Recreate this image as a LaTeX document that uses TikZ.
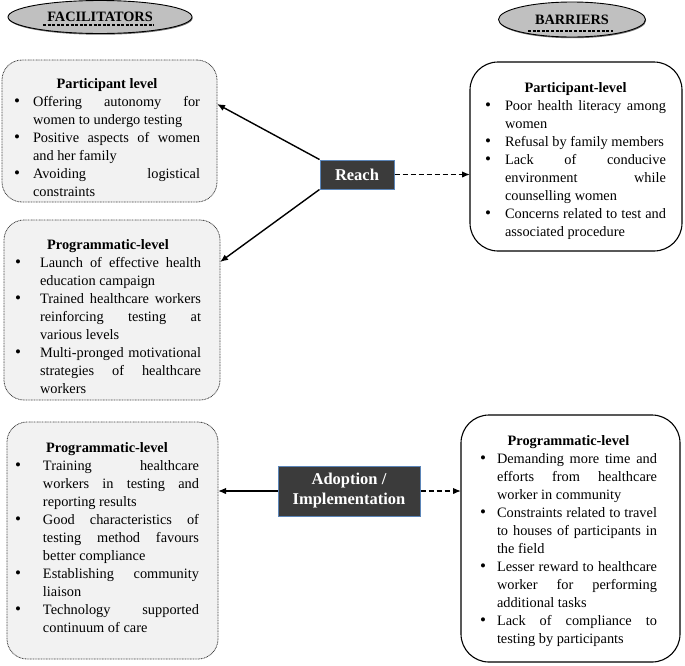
\documentclass[tikz,border=0pt]{standalone}
\usepackage{fontspec}
\setmainfont{Liberation Serif}
\usetikzlibrary{arrows.meta,shapes.geometric,shadows}
\definecolor{boxgray}{HTML}{F2F2F2}
\definecolor{ellgray}{HTML}{C0C0C0}
\definecolor{darkfill}{HTML}{3B3B3B}
\definecolor{blueedge}{HTML}{5B85B8}
\newcommand{\bigbullet}{{\fontsize{17}{17}\selectfont\textbullet}}
\newenvironment{bitems}[1]{%
  \begin{list}{\bigbullet}{%
    \setlength{\leftmargin}{#1}\setlength{\labelwidth}{#1}%
    \setlength{\labelsep}{0pt}\setlength{\itemsep}{0pt}%
    \setlength{\parsep}{0pt}\setlength{\topsep}{0pt}%
    \setlength{\partopsep}{0pt}\setlength{\itemindent}{0pt}%
    \setlength{\rightmargin}{0pt}%
    \renewcommand{\makelabel}[1]{##1\hfil}}%
    \leftskip=0pt \rightskip=0pt \parfillskip=0pt plus 1fil \relax}%
  {\end{list}}
\newcommand{\boxtitle}[1]{{\centering\bfseries #1\par}}
\newcommand{\txtsetup}{\tolerance=9999 \hbadness=10000 \hfuzz=3pt \hyphenpenalty=10000 \exhyphenpenalty=10000 \relax}
\begin{document}
\begin{tikzpicture}[x=1pt,y=-1pt,
  lbox/.style={draw=black!75, line width=0.8pt, dash pattern=on 0.9pt off 0.7pt,
    fill=boxgray, rounded corners=20pt, inner sep=0pt, outer sep=0pt},
  rbox/.style={draw=black, line width=1.1pt, fill=white, rounded corners=28pt,
    inner sep=0pt, outer sep=0pt},
  txt/.style={inner sep=0pt, outer sep=0pt, anchor=base west, align=justify,
    font=\fontsize{14.35}{18}\selectfont},
  hdr/.style={ellipse, draw=black, line width=0.9pt, fill=ellgray, inner sep=0pt,
    font=\fontsize{14.3}{17}\selectfont\bfseries,
    drop shadow={shadow xshift=0.6pt, shadow yshift=-1.2pt, fill=black!70, opacity=0.8}},
  uline/.style={line width=1.5pt, dash pattern=on 3pt off 1.6pt},
  stage/.style={draw=blueedge, line width=1pt, fill=darkfill, text=white,
    inner sep=0pt, font=\fontsize{16.5}{20}\selectfont\bfseries, align=center},
  arr/.style={line width=1.4pt, -{Latex[length=8pt,width=6.5pt]}},
  darr/.style={arr, dash pattern=on 5pt off 3pt}
]
\useasboundingbox (0,0) rectangle (685,665);

% headers
\node[hdr, minimum width=184pt, minimum height=33pt] (fac) at (100,17) {FACILITATORS};
\draw[uline] (fac.center) ++(-57,8) -- ++(111,0);
\node[hdr, minimum width=147pt, minimum height=35pt] (bar) at (572,19.5) {BARRIERS};
\draw[uline] (bar.center) ++(-44,11.5) -- ++(85,0);

% left boxes
\node[lbox, minimum width=215pt, minimum height=142pt] (b1) at (109.5,131) {};
\node[txt, text width=186pt] (t1) at (14,88) {\txtsetup
\boxtitle{Participant level}
\begin{bitems}{19pt}
\item Offering autonomy for\linebreak women to undergo testing
\item Positive aspects of women\linebreak and her family
\item Avoiding logistical\linebreak constraints
\end{bitems}};

\node[lbox, minimum width=216pt, minimum height=180pt] (b2) at (112,310) {};
\node[txt, text width=186pt] (t2) at (15,249) {\txtsetup
\boxtitle{Programmatic-level}
\begin{bitems}{25pt}
\item Launch of effective health\linebreak education campaign
\item Trained healthcare workers\linebreak reinforcing testing at\linebreak various levels
\item Multi-pronged motivational\linebreak strategies of healthcare\linebreak workers
\end{bitems}};

\node[lbox, minimum width=211pt, minimum height=237pt] (b3) at (112.5,540.5) {};
\node[txt, text width=184pt] (t3) at (15,452) {\txtsetup
\boxtitle{Programmatic-level}
\begin{bitems}{28pt}
\item Training healthcare\linebreak workers in testing and\linebreak reporting results
\item Good characteristics of\linebreak testing method favours\linebreak better compliance
\item Establishing community\linebreak liaison
\item Technology supported\linebreak continuum of care
\end{bitems}};

% right boxes
\node[rbox, minimum width=212pt, minimum height=189pt] (b4) at (576,156.5) {};
\begin{scope}
\clip (460,40) rectangle (690,238.5);
\node[txt, text width=181pt] (t4) at (485,92) {\txtsetup
\boxtitle{Participant-level}
\begin{bitems}{20pt}
\item Poor health literacy among\linebreak women
\item Refusal by family members
\item Lack of conducive\linebreak environment while\linebreak counselling women
\item Concerns related to test and\linebreak associated procedure
\end{bitems}};
\end{scope}

\node[rbox, minimum width=219pt, minimum height=247pt] (b5) at (570.5,538.5) {};
\node[txt, text width=177pt] (t5) at (480,445) {\txtsetup
\boxtitle{Programmatic-level}
\begin{bitems}{17pt}
\item Demanding more time and\linebreak efforts from healthcare\linebreak worker in community
\item Constraints related to travel\linebreak to houses of participants in\linebreak the field
\item Lesser reward to healthcare\linebreak worker for performing\linebreak additional tasks
\item Lack of compliance to\linebreak testing by participants
\end{bitems}};

% stage nodes
\node[stage, minimum width=74pt, minimum height=29pt] (reach) at (357,174.5) {Reach};
\node[stage, minimum width=142pt, minimum height=50pt] (adopt) at (349,491) {Adoption /\\Implementation};

% connectors
\coordinate (b1in) at (217,104);
\coordinate (b2in) at (220,262);
\draw[arr] (reach.north west) -- (b1in);
\draw[arr] (reach.south west) -- (b2in);
\draw[darr] (reach.east) -- (reach.east -| b4.west);
\draw[arr] (adopt.west) -- (adopt.west -| b3.east);
\draw[darr] (adopt.east) -- (adopt.east -| b5.west);
\end{tikzpicture}
\end{document}
